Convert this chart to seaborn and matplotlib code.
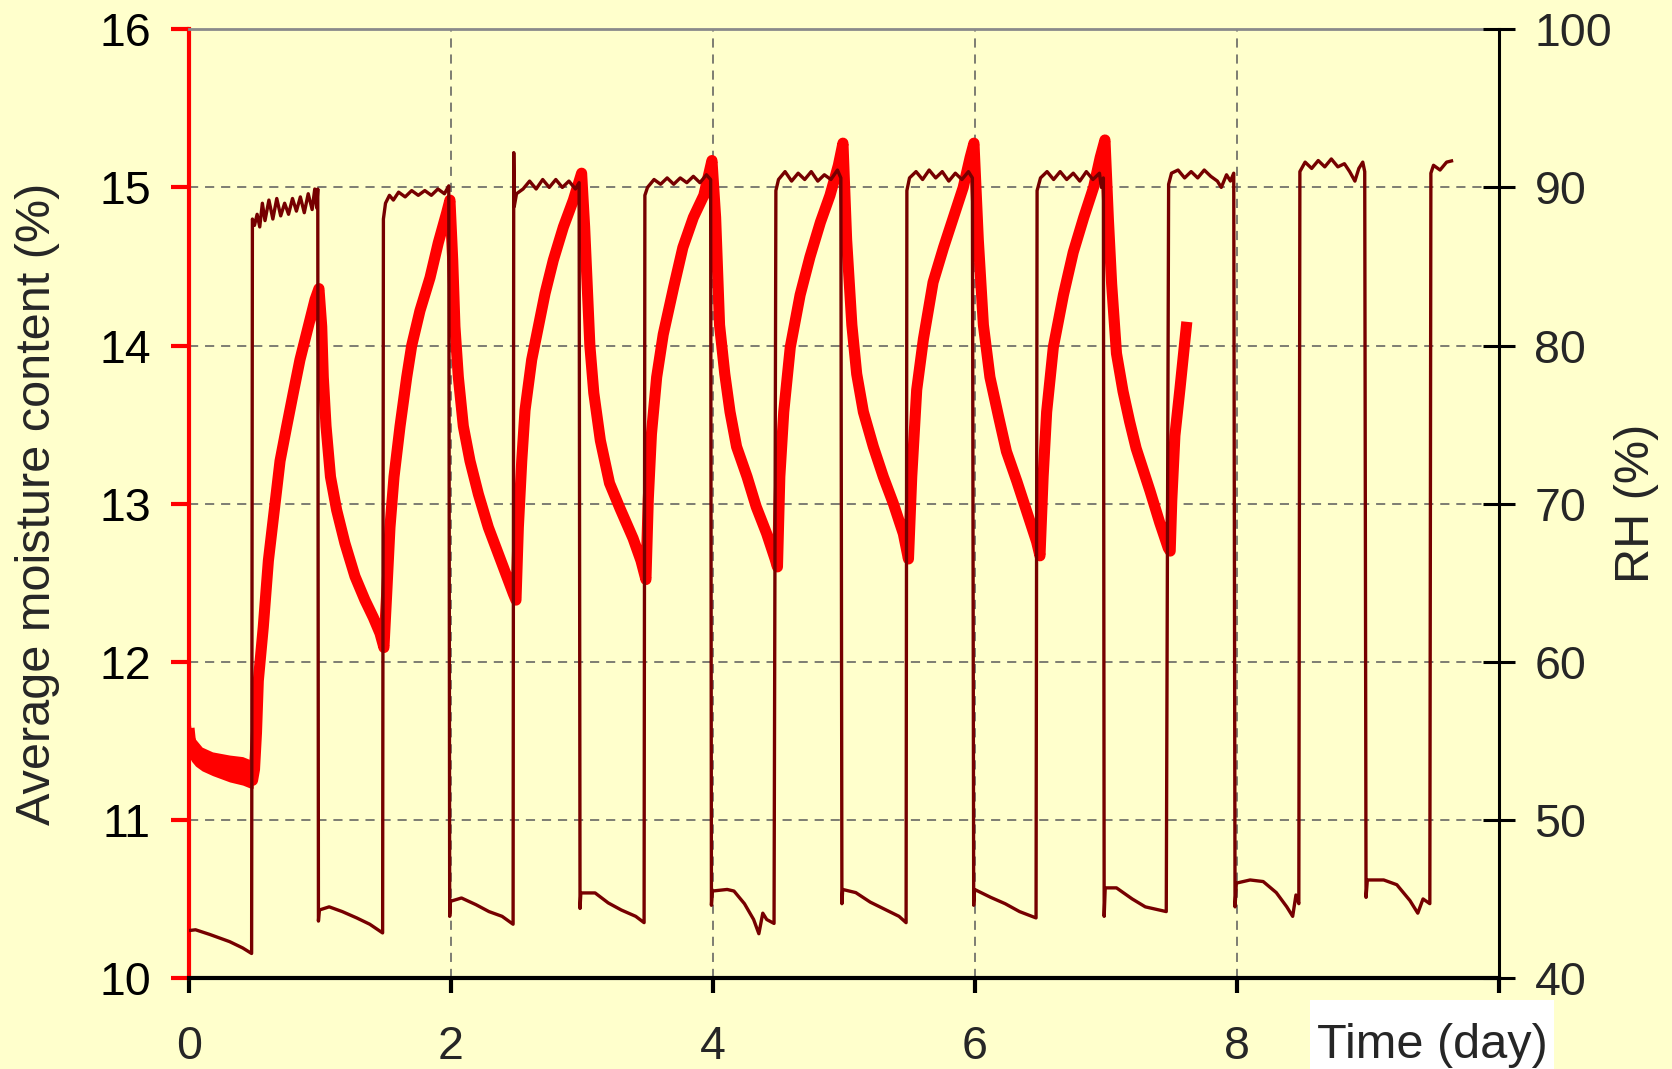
import matplotlib
matplotlib.use("Agg")
import matplotlib.pyplot as plt
from matplotlib.patches import Rectangle
import seaborn as sns

# ---------------- data ----------------
x_ticks = [0, 2, 4, 6, 8, 10]
x_tick_labels = ["0", "2", "4", "6", "8", ""]   # the "10" sits under the white title box
mc_ticks = [10, 11, 12, 13, 14, 15, 16]
rh_ticks = [40, 50, 60, 70, 80, 90, 100]

# average moisture content (%) vs time (day)
mc_time = [
    0.00, 0.01, 0.03, 0.06, 0.12, 0.20, 0.30, 0.40, 0.47,
    0.485, 0.50, 0.515, 0.529, 0.567, 0.606, 0.657, 0.695, 0.746, 0.796, 0.847, 0.911, 0.962, 0.992,
    1.013, 1.025, 1.046, 1.080, 1.127, 1.190, 1.267, 1.343, 1.407, 1.458, 1.488,
    1.509, 1.534, 1.565, 1.611, 1.662, 1.700, 1.763, 1.840, 1.903, 1.967, 1.992,
    2.013, 2.030, 2.056, 2.094, 2.145, 2.209, 2.285, 2.362, 2.425, 2.476, 2.496,
    2.514, 2.540, 2.565, 2.616, 2.667, 2.718, 2.781, 2.858, 2.934, 2.997,
    3.020, 3.036, 3.060, 3.090, 3.140, 3.210, 3.290, 3.390, 3.450, 3.488,
    3.506, 3.530, 3.570, 3.620, 3.700, 3.770, 3.850, 3.930, 3.975, 3.992,
    4.020, 4.050, 4.090, 4.130, 4.180, 4.260, 4.330, 4.410, 4.474, 4.492,
    4.510, 4.540, 4.590, 4.665, 4.740, 4.820, 4.893, 4.957, 4.992,
    5.020, 5.060, 5.097, 5.148, 5.224, 5.300, 5.377, 5.453, 5.492,
    5.517, 5.555, 5.606, 5.680, 5.760, 5.835, 5.910, 5.963, 5.992,
    6.025, 6.064, 6.114, 6.180, 6.240, 6.320, 6.395, 6.470, 6.496,
    6.520, 6.547, 6.598, 6.675, 6.750, 6.830, 6.905, 6.956, 6.992,
    7.018, 7.043, 7.080, 7.130, 7.180, 7.230, 7.285, 7.336, 7.410, 7.475, 7.490,
    7.502, 7.526, 7.565, 7.603, 7.617,
]
mc_value = [
    11.58, 11.50, 11.44, 11.42, 11.38, 11.35, 11.33, 11.31, 11.29,
    11.25, 11.32, 11.55, 11.88, 12.22, 12.64, 13.00, 13.27, 13.49, 13.70, 13.91, 14.12, 14.29, 14.36,
    14.12, 13.80, 13.49, 13.17, 12.96, 12.75, 12.54, 12.39, 12.28, 12.18, 12.09,
    12.43, 12.85, 13.17, 13.49, 13.80, 14.00, 14.22, 14.43, 14.65, 14.84, 14.92,
    14.54, 14.12, 13.80, 13.49, 13.27, 13.06, 12.85, 12.68, 12.54, 12.43, 12.39,
    12.85, 13.27, 13.59, 13.91, 14.12, 14.33, 14.54, 14.75, 14.92, 15.09,
    14.75, 14.45, 14.00, 13.70, 13.40, 13.13, 12.97, 12.78, 12.64, 12.52,
    13.03, 13.44, 13.80, 14.07, 14.37, 14.62, 14.81, 14.95, 15.11, 15.17,
    14.81, 14.13, 13.82, 13.58, 13.36, 13.17, 12.98, 12.81, 12.65, 12.60,
    13.17, 13.58, 13.99, 14.32, 14.56, 14.78, 14.95, 15.14, 15.28,
    14.67, 14.13, 13.82, 13.58, 13.36, 13.17, 13.00, 12.81, 12.65,
    13.17, 13.72, 14.04, 14.40, 14.62, 14.81, 15.00, 15.19, 15.28,
    14.67, 14.13, 13.80, 13.55, 13.33, 13.14, 12.95, 12.76, 12.67,
    13.17, 13.58, 13.99, 14.32, 14.59, 14.81, 15.00, 15.19, 15.30,
    14.80, 14.39, 13.95, 13.71, 13.52, 13.35, 13.21, 13.08, 12.88, 12.72, 12.70,
    13.02, 13.43, 13.73, 14.04, 14.15,
]

# noisy envelope of the first (initial) moisture-content segment
band_time = [0.00, 0.02, 0.05, 0.10, 0.18, 0.31, 0.41, 0.47, 0.49]
band_upper = [11.66, 11.56, 11.51, 11.46, 11.43, 11.41, 11.40, 11.38, 11.36]
band_lower = [11.40, 11.37, 11.34, 11.31, 11.28, 11.24, 11.22, 11.20, 11.20]

# relative humidity (%) vs time (day)
rh_time = [
    0.000, 0.050, 0.160, 0.310, 0.410, 0.478,
    0.484, 0.500, 0.520, 0.540, 0.560, 0.580, 0.610, 0.640, 0.670, 0.700, 0.730, 0.760, 0.790, 0.820, 0.850, 0.880, 0.910, 0.940, 0.960, 0.975, 0.983,
    0.988, 0.995, 1.070, 1.170, 1.280, 1.380, 1.478,
    1.484, 1.500, 1.530, 1.560, 1.600, 1.650, 1.700, 1.750, 1.800, 1.850, 1.900, 1.950, 1.983,
    1.990, 1.996, 2.080, 2.190, 2.290, 2.390, 2.474,
    2.479, 2.483, 2.500, 2.550, 2.600, 2.650, 2.700, 2.750, 2.800, 2.850, 2.900, 2.950, 2.978,
    2.985, 2.991, 3.100, 3.200, 3.300, 3.410, 3.474,
    3.480, 3.500, 3.550, 3.600, 3.650, 3.700, 3.750, 3.800, 3.850, 3.900, 3.950, 3.982,
    3.988, 3.995, 4.108, 4.160, 4.240, 4.310, 4.350, 4.380, 4.410, 4.466,
    4.480, 4.500, 4.550, 4.600, 4.650, 4.700, 4.750, 4.800, 4.850, 4.900, 4.950, 4.976,
    4.984, 4.990, 5.090, 5.200, 5.310, 5.420, 5.474,
    5.480, 5.500, 5.550, 5.600, 5.650, 5.700, 5.750, 5.800, 5.850, 5.900, 5.950, 5.980,
    5.990, 5.997, 6.120, 6.230, 6.340, 6.466,
    6.474, 6.500, 6.550, 6.600, 6.650, 6.700, 6.750, 6.800, 6.850, 6.900, 6.950, 6.965, 6.980,
    6.986, 6.994, 7.080, 7.200, 7.300, 7.460,
    7.478, 7.500, 7.550, 7.600, 7.650, 7.700, 7.750, 7.800, 7.850, 7.880, 7.920, 7.950, 7.975,
    7.985, 7.995, 8.100, 8.200, 8.300, 8.380, 8.425, 8.450, 8.472,
    8.480, 8.520, 8.570, 8.620, 8.670, 8.720, 8.770, 8.820, 8.860, 8.900, 8.930, 8.960, 8.975,
    8.985, 8.995, 9.120, 9.220, 9.320, 9.380, 9.420, 9.472,
    9.480, 9.500, 9.550, 9.600, 9.650,
]
rh_value = [
    43.0, 43.05, 42.75, 42.3, 41.9, 41.55,
    88.0, 87.6, 88.3, 87.5, 89.0, 87.9, 89.2, 88.0, 89.3, 88.2, 89.0, 88.3, 89.3, 88.5, 89.4, 88.4, 89.6, 88.6, 89.9, 88.7, 89.9,
    43.6, 44.3, 44.5, 44.2, 43.8, 43.4, 42.85,
    88.0, 89.0, 89.5, 89.2, 89.7, 89.4, 89.8, 89.5, 89.8, 89.5, 89.9, 89.6, 90.1,
    43.9, 44.85, 45.06, 44.64, 44.2, 43.9, 43.4,
    92.2, 88.8, 89.6, 89.9, 90.4, 89.9, 90.5, 90.0, 90.5, 90.0, 90.4, 89.9, 90.3,
    44.4, 45.38, 45.38, 44.75, 44.3, 43.9, 43.5,
    89.5, 90.0, 90.5, 90.2, 90.6, 90.2, 90.6, 90.3, 90.7, 90.3, 90.8, 90.5,
    44.6, 45.5, 45.6, 45.5, 44.7, 43.7, 42.8, 44.1, 43.7, 43.45,
    89.8, 90.5, 91.0, 90.4, 90.9, 90.5, 91.0, 90.4, 90.8, 90.5, 91.1, 90.6,
    44.7, 45.6, 45.4, 44.8, 44.35, 43.9, 43.5,
    89.8, 90.6, 91.0, 90.5, 91.1, 90.6, 91.0, 90.4, 90.9, 90.5, 91.0, 90.6,
    44.6, 45.6, 45.1, 44.7, 44.2, 43.8,
    89.8, 90.6, 91.0, 90.5, 91.0, 90.5, 90.9, 90.4, 91.0, 90.5, 90.9, 90.0, 90.6,
    43.9, 45.7, 45.7, 45.0, 44.5, 44.2,
    90.2, 90.9, 91.1, 90.6, 91.0, 90.6, 91.1, 90.7, 90.4, 90.0, 90.8, 90.4, 90.9,
    44.5, 46.0, 46.2, 46.1, 45.4, 44.5, 43.9, 45.25, 44.7,
    91.0, 91.6, 91.2, 91.7, 91.3, 91.8, 91.3, 91.5, 91.0, 90.4, 91.2, 91.6, 91.0,
    45.1, 46.2, 46.2, 45.9, 44.9, 44.1, 45.0, 44.7,
    90.9, 91.4, 91.1, 91.6, 91.7,
]
assert len(mc_time) == len(mc_value)
assert len(rh_time) == len(rh_value)

# ---------------- style ----------------
BG = "#FFFFCC"
RED = "#FF0000"
DARK = "#760000"
FS_TICK = 33.5
FS_LAB = 35

sns.set_style("white")
plt.rcParams["font.family"] = ["Liberation Sans", "DejaVu Sans"]
plt.rcParams["lines.solid_joinstyle"] = "round"
plt.rcParams["lines.solid_capstyle"] = "butt"

W, H = 1672, 1069
fig = plt.figure(figsize=(W / 100, H / 100), dpi=100, facecolor=BG)
ax = fig.add_axes([189 / W, 1 - 978 / H, 1310 / W, (978 - 29.3) / H])
ax.set_facecolor(BG)
ax2 = ax.twinx()

# moisture content (left axis)
ax.fill_between(band_time, band_lower, band_upper, color=RED, lw=0, zorder=2)
sns.lineplot(x=mc_time, y=mc_value, ax=ax, color=RED, lw=8,
             sort=False, estimator=None, zorder=3)

# relative humidity (right axis)
sns.lineplot(x=rh_time, y=rh_value, ax=ax2, color=DARK, lw=2.4,
             sort=False, estimator=None, zorder=3)

ax.set_xlim(0, 10)
ax.set_ylim(10, 16)
ax2.set_ylim(40, 100)
ax.set_xticks(x_ticks)
ax.set_xticklabels(x_tick_labels)
ax.set_yticks(mc_ticks)
ax.set_yticklabels([str(v) for v in mc_ticks])
ax2.set_yticks(rh_ticks)
ax2.set_yticklabels([str(v) for v in rh_ticks])

# grid
ax.set_axisbelow(True)
ax.grid(True, axis="both", color="#5a5a5a", lw=1.1, linestyle=(0, (6, 4.5)))
ax2.grid(False)

# spines
for s in ["top", "bottom", "left", "right"]:
    ax2.spines[s].set_visible(s == "right")
ax.spines["right"].set_visible(False)
ax.spines["left"].set_color(RED)
ax.spines["left"].set_linewidth(3)
ax.spines["bottom"].set_color("black")
ax.spines["bottom"].set_linewidth(3)
ax.spines["top"].set_color("#8a8a8a")
ax.spines["top"].set_linewidth(2)
ax2.spines["right"].set_color("black")
ax2.spines["right"].set_linewidth(2.2)

ax.tick_params(axis="y", direction="out", length=13, width=3, color=RED,
               labelcolor="black", labelsize=FS_TICK, pad=14.5, left=True)
ax.tick_params(axis="x", direction="out", length=11, width=3, color="black",
               labelsize=FS_TICK, pad=23, bottom=True)
ax2.tick_params(axis="y", direction="inout", length=23, width=2.2, color="black",
                labelsize=FS_TICK, pad=14, right=True)

ax.set_xlabel("")
ax.set_ylabel("Average moisture content (%)", fontsize=FS_LAB)
ax.yaxis.set_label_coords((60 - 189) / 1310, 0.5)
ax2.set_ylabel("RH (%)", fontsize=FS_LAB)
ax2.yaxis.set_label_coords((1614 - 189) / 1310, 0.5)

# x-axis title in a white box at bottom right
fig.add_artist(Rectangle((1310 / W, 0), 244 / W, 69 / H, transform=fig.transFigure,
                         facecolor="white", edgecolor="none", zorder=5))
fig.text(1432 / W, 1 - 1058 / H, "Time (day)", ha="center", va="baseline",
         fontsize=FS_LAB, zorder=6)

fig.savefig("out.png", dpi=100, facecolor=BG)
